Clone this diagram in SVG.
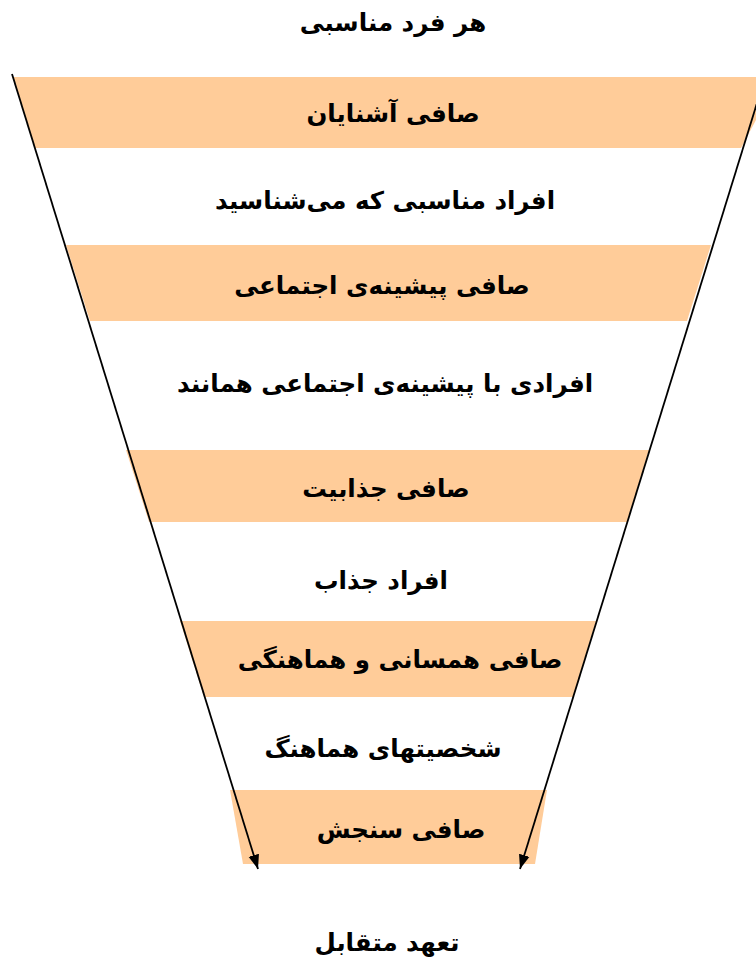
<svg xmlns="http://www.w3.org/2000/svg" width="756" height="967" viewBox="0 0 756 967">
<style>
.band{fill:#FFCC99;stroke:none}
.t{font-family:"DejaVu Sans",sans-serif;font-weight:bold;font-size:24.5px;fill:#000;text-anchor:middle;direction:rtl}
.ln{stroke:#000;stroke-width:1.8;fill:none}
</style>
<defs>
<marker id="ah" viewBox="0 0 10 10" refX="10" refY="5" markerWidth="8" markerHeight="8" markerUnits="strokeWidth" orient="auto">
<path d="M0,1.2 L10,5 L0,8.8 Z" fill="#000"/>
</marker>
</defs>
<rect width="756" height="967" fill="#fff"/>
<g id="bands">
<polygon class="band" points="13,77 756,77 756,120 741,148 35,148"/>
<polygon class="band" points="66,245 711,245 687,321 90,321"/>
<polygon class="band" points="126,450 649,450 627,522 149,522"/>
<polygon class="band" points="180,621 596,621 573,697 204,697"/>
<polygon class="band" points="230,790 547,790 535,864 243,864"/>
</g>
<g id="connectors">
<line class="ln" x1="12" y1="74" x2="258" y2="869" marker-end="url(#ah)"/>
<line class="ln" x1="766" y1="74" x2="520" y2="869" marker-end="url(#ah)"/>
</g>
<g id="n0"><text class="t" x="393" y="31">هر فرد مناسبی</text></g>
<g id="n1"><text class="t" x="393" y="122">صافی آشنایان</text></g>
<g id="n2"><text class="t" x="385" y="209">افراد مناسبی که می‌شناسید</text></g>
<g id="n3"><text class="t" x="382" y="294">صافی پیشینه‌ی اجتماعی</text></g>
<g id="n4"><text class="t" x="385" y="392">افرادی با پیشینه‌ی اجتماعی همانند</text></g>
<g id="n5"><text class="t" x="386" y="497">صافی جذابیت</text></g>
<g id="n6"><text class="t" x="381" y="589">افراد جذاب</text></g>
<g id="n7"><text class="t" x="400" y="668">صافی همسانی و هماهنگی</text></g>
<g id="n8"><text class="t" x="383" y="757">شخصیتهای هماهنگ</text></g>
<g id="n9"><text class="t" x="401" y="838">صافی سنجش</text></g>
<g id="n10"><text class="t" x="387" y="951">تعهد متقابل</text></g>
</svg>
